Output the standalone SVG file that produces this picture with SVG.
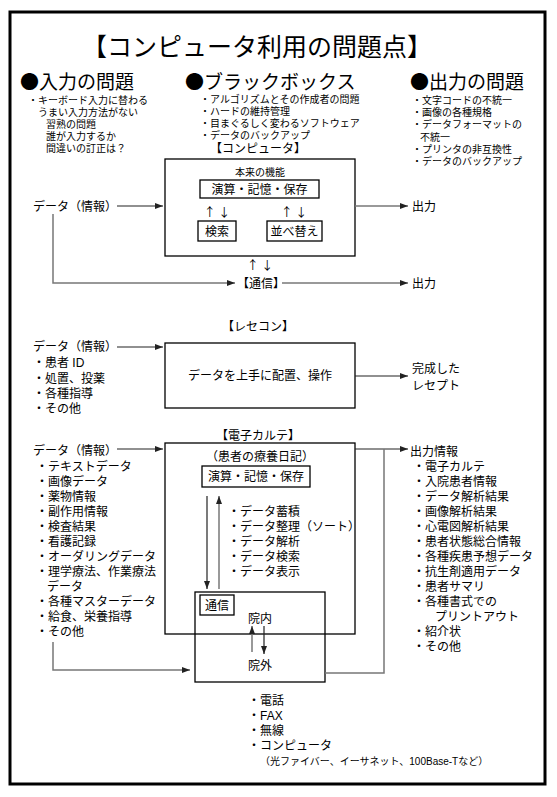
<svg xmlns="http://www.w3.org/2000/svg" width="557" height="797" viewBox="0 0 557 797">
<style>
text{font-family:"Liberation Sans","Noto Sans CJK JP",sans-serif;fill:#000}
.cjk{font-family:"Noto Sans CJK JP",sans-serif}
.t{font-size:25px}
.h{font-size:19px}
.s{font-size:10px}
.m{font-size:12px}
.box{fill:none;stroke:#000;stroke-width:1.3}
.ln{fill:none;stroke:#777;stroke-width:1.5}
.lk{fill:none;stroke:#222;stroke-width:1.2}
</style>
<defs>
<marker id="ah" markerUnits="userSpaceOnUse" markerWidth="8" markerHeight="6" refX="8" refY="3" orient="auto"><path d="M0,0 L8,3 L0,6 z" fill="#222"/></marker>
</defs>
<rect x="10" y="12" width="535" height="772" fill="#fff" stroke="#000" stroke-width="3"/>
<text class="t" x="257" y="56" text-anchor="middle">【コンピュータ利用の問題点】</text>
<g id="input-problems">
<text class="h" x="20" y="89"><tspan class="cjk">●</tspan>入力の問題</text>
<text class="s"><tspan x="28" y="104">・キーボード入力に替わる</tspan><tspan x="38" y="116">うまい入力方法がない</tspan><tspan x="46" y="128">習熟の問題</tspan><tspan x="46" y="140">誰が入力するか</tspan><tspan x="46" y="152">間違いの訂正は？</tspan></text>
</g>
<g id="blackbox">
<text class="h" x="185" y="89"><tspan class="cjk">●</tspan>ブラックボックス</text>
<text class="s"><tspan x="200" y="103">・アルゴリズムとその作成者の問題</tspan><tspan x="200" y="115">・ハードの維持管理</tspan><tspan x="200" y="127">・目まぐるしく変わるソフトウェア</tspan><tspan x="200" y="139">・データのバックアップ</tspan></text>
</g>
<g id="output-problems">
<text class="h" x="410" y="89"><tspan class="cjk">●</tspan>出力の問題</text>
<text class="s"><tspan x="412" y="104">・文字コードの不統一</tspan><tspan x="412" y="116">・画像の各種規格</tspan><tspan x="412" y="128">・データフォーマットの</tspan><tspan x="420" y="141">不統一</tspan><tspan x="412" y="153">・プリンタの非互換性</tspan><tspan x="412" y="165">・データのバックアップ</tspan></text>
</g>
<g id="computer">
<text class="m" x="258" y="153" text-anchor="middle">【コンピュータ】</text>
<rect class="box" x="165" y="159" width="190" height="97"/>
<text class="s" x="260" y="176" text-anchor="middle">本来の機能</text>
<rect class="box" x="200" y="180" width="119" height="18"/>
<text class="m" x="259.5" y="194" text-anchor="middle">演算・記憶・保存</text>
<text class="m cjk" x="217" y="217" text-anchor="middle">↑ ↓</text>
<text class="m cjk" x="294" y="217" text-anchor="middle">↑ ↓</text>
<rect class="box" x="198" y="221" width="38" height="20"/>
<text class="m" x="217" y="236" text-anchor="middle">検索</text>
<rect class="box" x="267" y="221" width="55" height="20"/>
<text class="m" x="294.5" y="236" text-anchor="middle">並べ替え</text>
</g>
<g id="comp-labels">
<text class="m" x="33" y="211">データ（情報）</text>
<text class="m" x="412" y="211">出力</text>
<text class="m cjk" x="260" y="270" text-anchor="middle">↑ ↓</text>
<text class="m" x="237" y="288">【通信】</text>
<text class="m" x="412" y="288">出力</text>
</g>
<g id="rececon">
<text class="m" x="258" y="331" text-anchor="middle">【レセコン】</text>
<rect class="box" x="165" y="343" width="190" height="65"/>
<text class="m" x="260" y="380" text-anchor="middle">データを上手に配置、操作</text>
<text class="m"><tspan x="33" y="351">データ（情報）</tspan><tspan x="33" y="367">・患者 ID</tspan><tspan x="33" y="383">・処置、投薬</tspan><tspan x="33" y="398">・各種指導</tspan><tspan x="33" y="413">・その他</tspan></text>
<text class="m"><tspan x="412" y="373">完成した</tspan><tspan x="412" y="390">レセプト</tspan></text>
</g>
<g id="karte">
<text class="m" x="258" y="440" text-anchor="middle">【電子カルテ】</text>
<rect class="box" x="165" y="443" width="190" height="191"/>
<text class="m" x="260" y="461" text-anchor="middle">（患者の療養日記）</text>
<rect class="box" x="202" y="466" width="108" height="21"/>
<text class="m" x="256" y="481" text-anchor="middle">演算・記憶・保存</text>
<text class="m"><tspan x="228" y="516">・データ蓄積</tspan><tspan x="228" y="531">・データ整理（ソート）</tspan><tspan x="228" y="546">・データ解析</tspan><tspan x="228" y="561">・データ検索</tspan><tspan x="228" y="576">・データ表示</tspan></text>
</g>
<g id="comm">
<rect class="box" x="195" y="592" width="130" height="90"/>
<rect class="box" x="200" y="595" width="34" height="20"/>
<text class="m" x="217" y="610" text-anchor="middle">通信</text>
<text class="m" x="248" y="623">院内</text>
<text class="m" x="248" y="670">院外</text>
</g>
<g id="karte-input">
<text class="m"><tspan x="33" y="455">データ（情報）</tspan><tspan x="36" y="471">・テキストデータ</tspan><tspan x="36" y="486">・画像データ</tspan><tspan x="36" y="501">・薬物情報</tspan><tspan x="36" y="516">・副作用情報</tspan><tspan x="36" y="531">・検査結果</tspan><tspan x="36" y="546">・看護記録</tspan><tspan x="36" y="561">・オーダリングデータ</tspan><tspan x="36" y="576">・理学療法、作業療法</tspan><tspan x="47" y="591">データ</tspan><tspan x="36" y="606">・各種マスターデータ</tspan><tspan x="36" y="621">・給食、栄養指導</tspan><tspan x="36" y="636">・その他</tspan></text>
</g>
<g id="karte-output">
<text class="m"><tspan x="410" y="456">出力情報</tspan><tspan x="413" y="471">・電子カルテ</tspan><tspan x="413" y="486">・入院患者情報</tspan><tspan x="413" y="501">・データ解析結果</tspan><tspan x="413" y="516">・画像解析結果</tspan><tspan x="413" y="531">・心電図解析結果</tspan><tspan x="413" y="546">・患者状態総合情報</tspan><tspan x="413" y="561">・各種疾患予想データ</tspan><tspan x="413" y="576">・抗生剤適用データ</tspan><tspan x="413" y="591">・患者サマリ</tspan><tspan x="413" y="606">・各種書式での</tspan><tspan x="435" y="621">プリントアウト</tspan><tspan x="413" y="636">・紹介状</tspan><tspan x="413" y="651">・その他</tspan></text>
</g>
<g id="media">
<text class="m"><tspan x="248" y="705">・電話</tspan><tspan x="248" y="720">・FAX</tspan><tspan x="248" y="735">・無線</tspan><tspan x="248" y="750">・コンピュータ</tspan><tspan x="260" y="765" style="font-size:10px">（光ファイバー、イーサネット、100Base-Tなど）</tspan></text>
</g>
<g id="connectors">
<line class="lk" x1="117" y1="206" x2="163" y2="206" marker-end="url(#ah)"/>
<line class="ln" x1="355" y1="206" x2="408" y2="206" marker-end="url(#ah)"/>
<polyline class="ln" points="53,214 53,283 235,283" marker-end="url(#ah)"/>
<line class="ln" x1="282" y1="283" x2="408" y2="283" marker-end="url(#ah)"/>
<line class="lk" x1="117" y1="347" x2="163" y2="347" marker-end="url(#ah)"/>
<line class="lk" x1="355" y1="376" x2="408" y2="376" marker-end="url(#ah)"/>
<line class="lk" x1="117" y1="449" x2="163" y2="449" marker-end="url(#ah)"/>
<line class="lk" x1="355" y1="449" x2="408" y2="449" marker-end="url(#ah)"/>
<polyline class="ln" points="325,673 384,673 384,449"/>
<polyline class="ln" points="53,642 53,670 190,670" marker-end="url(#ah)"/>
<line class="lk" x1="207" y1="496" x2="207" y2="589" marker-end="url(#ah)"/>
<line class="ln" x1="219" y1="589" x2="219" y2="496" marker-end="url(#ah)"/>
<line class="ln" x1="252" y1="652" x2="252" y2="626" marker-end="url(#ah)"/>
<line class="lk" x1="264" y1="626" x2="264" y2="654" marker-end="url(#ah)"/>
</g>
</svg>
